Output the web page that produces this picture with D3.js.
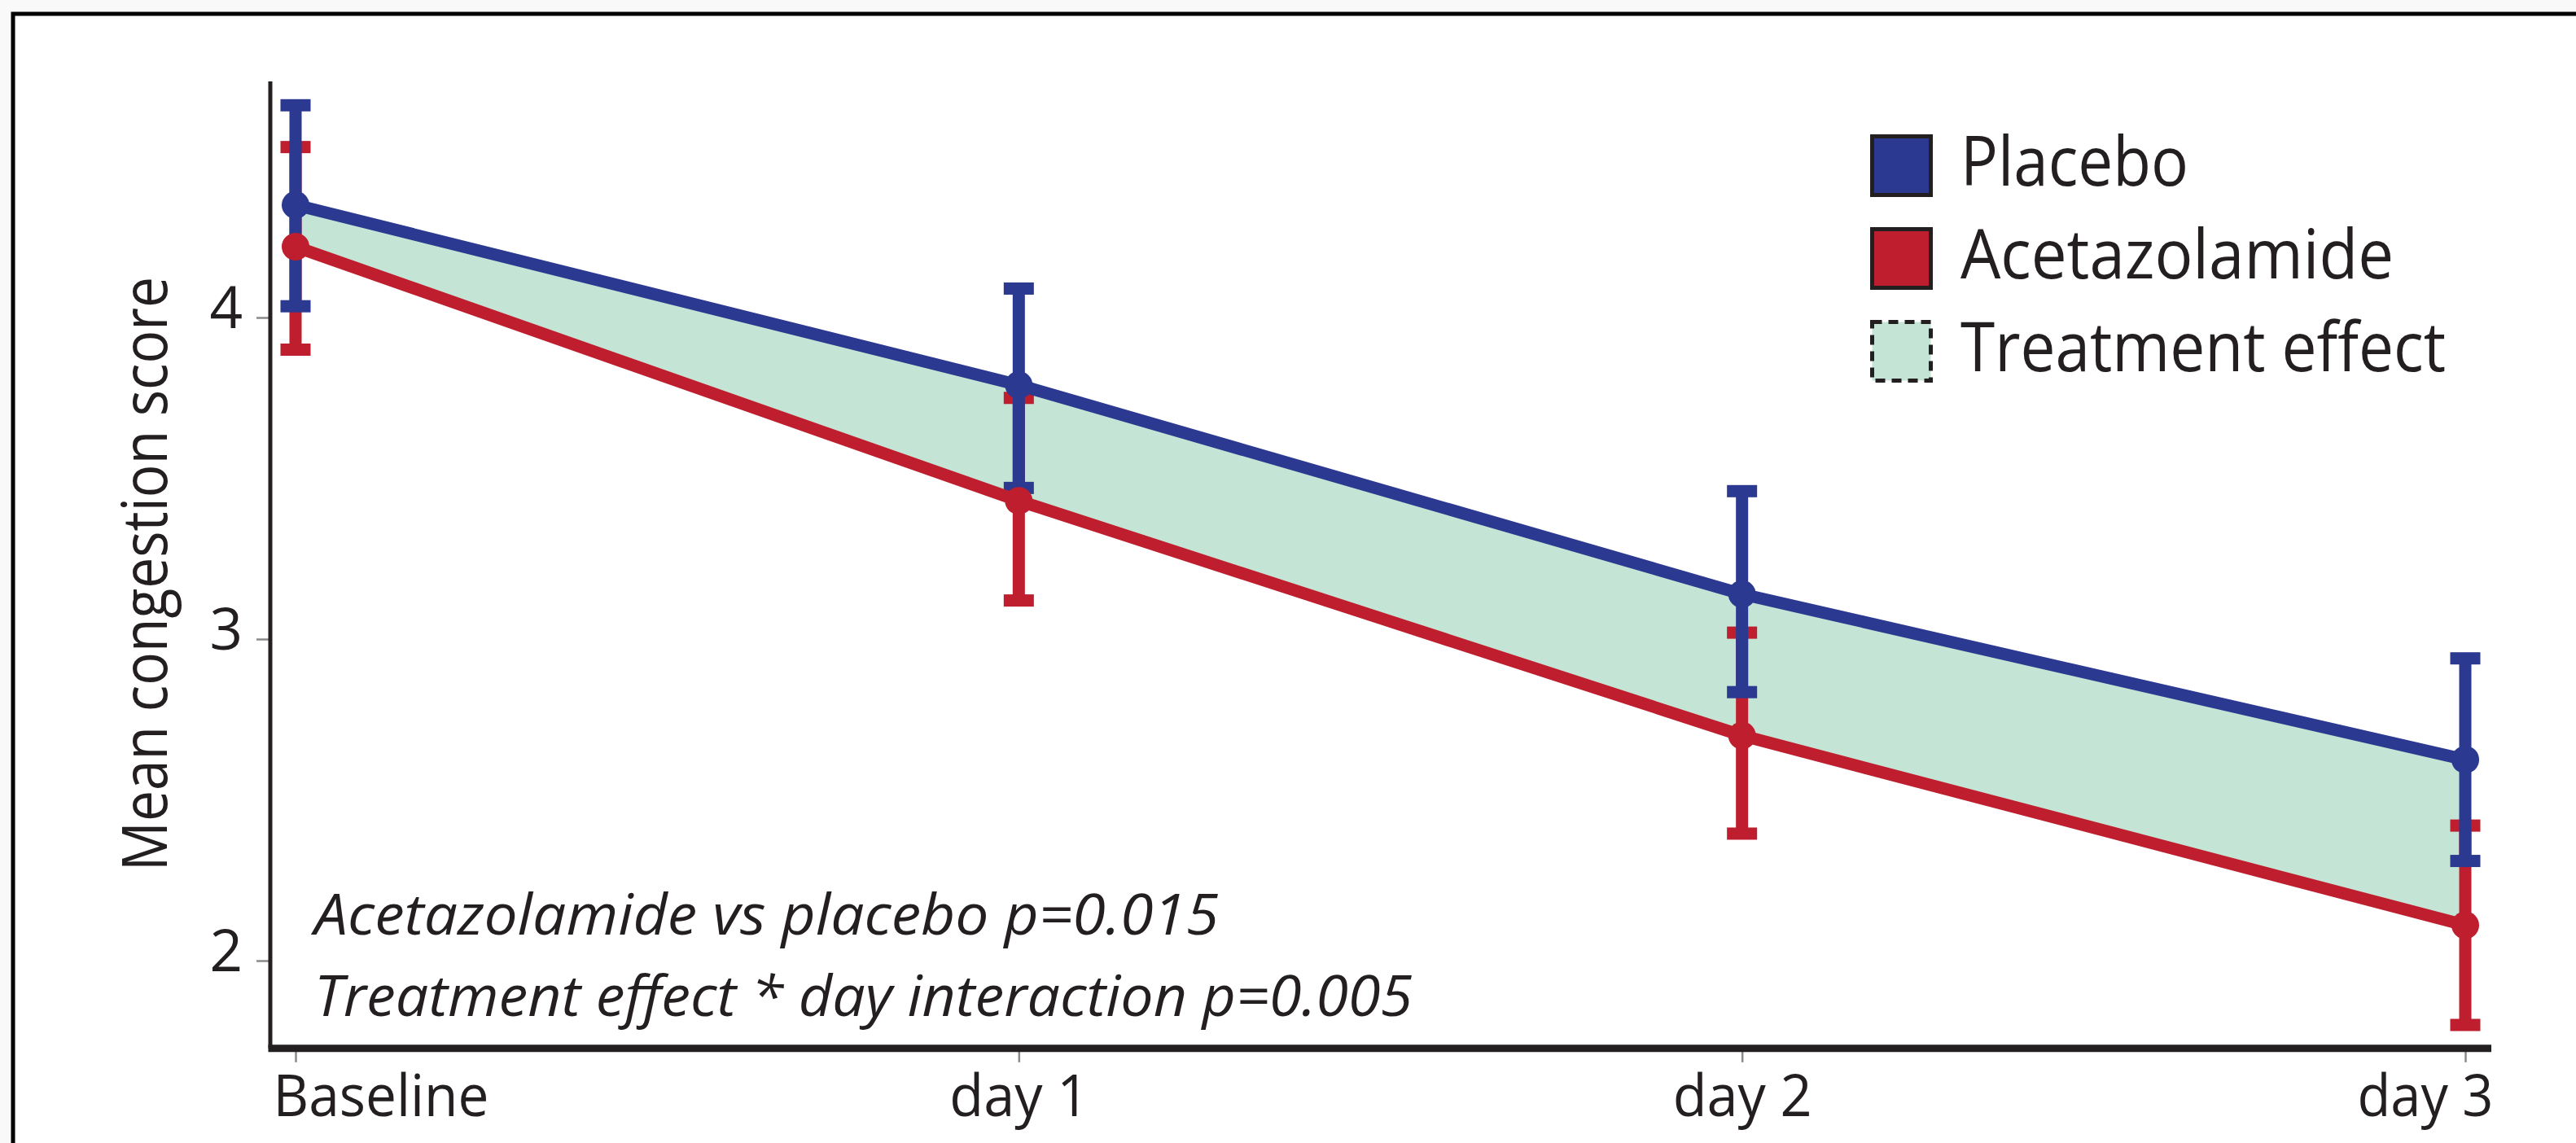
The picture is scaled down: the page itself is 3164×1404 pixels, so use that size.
<!DOCTYPE html>
<html lang="en">

<head>
  <title>Mean congestion score</title>
  <meta charset="UTF-8">
  <meta name="viewport" content="width=device-width, initial-scale=1">
  <style>
    body { margin: 0; background: #f9f9f9; overflow: hidden; }
    svg { display: block; }
    text { font-family: "Open Sans", sans-serif; fill: #231f20; }
  </style>
</head>

<body>
  <svg id="chart" width="3164" height="1404"></svg>
  <script src="https://cdn.jsdelivr.net/npm/d3@7"></script>
  <script>
    // values
    var days = ['Baseline', 'day 1', 'day 2', 'day 3'];
    var placeboMean = [4.35, 3.79, 3.14, 2.625];
    var placeboHi = [4.66, 4.09, 3.46, 2.94];
    var placeboLo = [4.035, 3.47, 2.835, 2.31];
    var acetMean = [4.22, 3.43, 2.70, 2.11];
    var acetHi = [4.53, 3.75, 3.02, 2.42];
    var acetLo = [3.90, 3.12, 2.395, 1.80];
    var yTicks = [2, 3, 4];
    var legendLabels = ['Placebo', 'Acetazolamide', 'Treatment effect'];
    var notes = ['Acetazolamide vs placebo p=0.015', 'Treatment effect * day interaction p=0.005'];

    var BLUE = '#2b3990', RED = '#be1e2d', MINT = '#c4e5d6', INK = '#231f20';

    var svg = d3.select('#chart');

    // white panel with the black frame (runs off right and bottom)
    svg.append('rect')
      .attr('x', 16).attr('y', 17)
      .attr('width', 3300).attr('height', 1500)
      .attr('fill', '#fff')
      .attr('stroke', '#000')
      .attr('stroke-width', 5);

    var x = d3.scalePoint().domain(days).range([363, 3028]);
    var y = d3.scaleLinear().domain([2, 4]).range([1180, 390]);
    var yExtent = [1.727, 4.734];
    var axisX = 332, axisY = y(yExtent[0]);

    var series = [
      { name: 'acet', color: RED, mean: acetMean, hi: acetHi, lo: acetLo },
      { name: 'placebo', color: BLUE, mean: placeboMean, hi: placeboHi, lo: placeboLo }
    ];

    // treatment effect band
    var area = d3.area()
      .x(function (d, i) { return x(days[i]); })
      .y0(function (d, i) { return y(acetMean[i]); })
      .y1(function (d, i) { return y(placeboMean[i]); });
    svg.append('path')
      .attr('d', area(days))
      .attr('fill', MINT);

    // ticks
    var yAxis = svg.append('g')
      .attr('transform', 'translate(' + (axisX - 2) + ',0)')
      .call(d3.axisLeft(y).tickValues(yTicks).tickSize(15).tickPadding(17).tickFormat(d3.format('d')));
    yAxis.select('.domain').remove();
    yAxis.selectAll('line').attr('stroke', '#8a8a8a').attr('stroke-width', 2.5);
    yAxis.selectAll('text')
      .attr('font-size', 71)
      .attr('font-family', '"Open Sans", sans-serif')
      .attr('fill', INK)
      .attr('dy', '0.18em');

    var xLabelWidth = [265, 171, 171, 167];
    var xAxis = svg.append('g')
      .attr('transform', 'translate(0,' + axisY + ')')
      .call(d3.axisBottom(x).tickSize(17).tickPadding(16));
    xAxis.select('.domain').remove();
    xAxis.selectAll('line').attr('stroke', '#8a8a8a').attr('stroke-width', 2.5);
    xAxis.selectAll('text')
      .attr('font-size', 71)
      .attr('font-family', '"Open Sans", sans-serif')
      .attr('fill', INK)
      .attr('dy', '0.71em')
      .attr('textLength', function (d, i) { return xLabelWidth[i]; })
      .attr('lengthAdjust', 'spacingAndGlyphs')
      .attr('text-anchor', function (d, i) { return i === 0 ? 'start' : (i === days.length - 1 ? 'end' : 'middle'); })
      .attr('x', function (d, i) { return i === 0 ? -28 : (i === days.length - 1 ? 34 : 0); });

    // axis lines
    svg.append('line')
      .attr('x1', axisX).attr('x2', axisX)
      .attr('y1', y(yExtent[1])).attr('y2', axisY)
      .attr('stroke', INK).attr('stroke-width', 5);
    svg.append('line')
      .attr('x1', axisX - 2.5).attr('x2', 3060)
      .attr('y1', axisY).attr('y2', axisY)
      .attr('stroke', INK).attr('stroke-width', 9);

    // error bars
    series.forEach(function (s) {
      var g = svg.append('g').attr('class', 'err-' + s.name);
      g.selectAll('line')
        .data(days)
        .enter().append('line')
        .attr('x1', function (d) { return x(d); })
        .attr('x2', function (d) { return x(d); })
        .attr('y1', function (d, i) { return y(s.hi[i]); })
        .attr('y2', function (d, i) { return y(s.lo[i]); })
        .attr('stroke', s.color)
        .attr('stroke-width', 15);
      var caps = [];
      days.forEach(function (d, i) { caps.push([d, s.hi[i]], [d, s.lo[i]]); });
      g.selectAll('rect')
        .data(caps)
        .enter().append('rect')
        .attr('x', function (c) { return x(c[0]) - 18.5; })
        .attr('y', function (c) { return y(c[1]) - 7.5; })
        .attr('width', 37)
        .attr('height', 15)
        .attr('fill', s.color);
    });

    // mean lines and points
    series.forEach(function (s) {
      var line = d3.line()
        .x(function (d, i) { return x(days[i]); })
        .y(function (d) { return y(d); });
      svg.append('path')
        .attr('d', line(s.mean))
        .attr('fill', 'none')
        .attr('stroke', s.color)
        .attr('stroke-width', 15)
        .attr('stroke-linejoin', 'round');
    });
    series.forEach(function (s) {
      svg.append('g').selectAll('circle')
        .data(s.mean)
        .enter().append('circle')
        .attr('cx', function (d, i) { return x(days[i]); })
        .attr('cy', function (d) { return y(d); })
        .attr('r', 17)
        .attr('fill', s.color);
    });

    // y label
    svg.append('text')
      .attr('transform', 'translate(205,705) rotate(-90)')
      .attr('text-anchor', 'middle')
      .attr('font-size', 77)
      .attr('textLength', 730)
      .attr('lengthAdjust', 'spacingAndGlyphs')
      .text('Mean congestion score');

    // legend
    var legendFill = [BLUE, RED, MINT];
    var legendWidth = [280, 532, 596];
    var legend = svg.append('g').attr('transform', 'translate(2297,165)');
    var item = legend.selectAll('g')
      .data(legendLabels)
      .enter().append('g')
      .attr('transform', function (d, i) { return 'translate(0,' + (i * 114) + ')'; });
    item.append('rect')
      .attr('x', 2.5).attr('y', 2.5)
      .attr('width', 72).attr('height', 72)
      .attr('fill', function (d, i) { return legendFill[i]; })
      .attr('stroke', INK)
      .attr('stroke-width', 5)
      .attr('stroke-dasharray', function (d, i) { return i === 2 ? '12,8' : null; });
    item.append('text')
      .attr('x', 111).attr('y', 63)
      .attr('font-size', 84)
      .attr('textLength', function (d, i) { return legendWidth[i]; })
      .attr('lengthAdjust', 'spacingAndGlyphs')
      .text(function (d) { return d; });

    // statistics notes
    var noteWidth = [1111, 1349];
    svg.append('g').selectAll('text')
      .data(notes)
      .enter().append('text')
      .attr('x', 386)
      .attr('y', function (d, i) { return 1148 + i * 100; })
      .attr('font-size', 70)
      .attr('font-style', 'italic')
      .attr('textLength', function (d, i) { return noteWidth[i]; })
      .attr('lengthAdjust', 'spacingAndGlyphs')
      .text(function (d) { return d; });
  </script>
</body>

</html>
